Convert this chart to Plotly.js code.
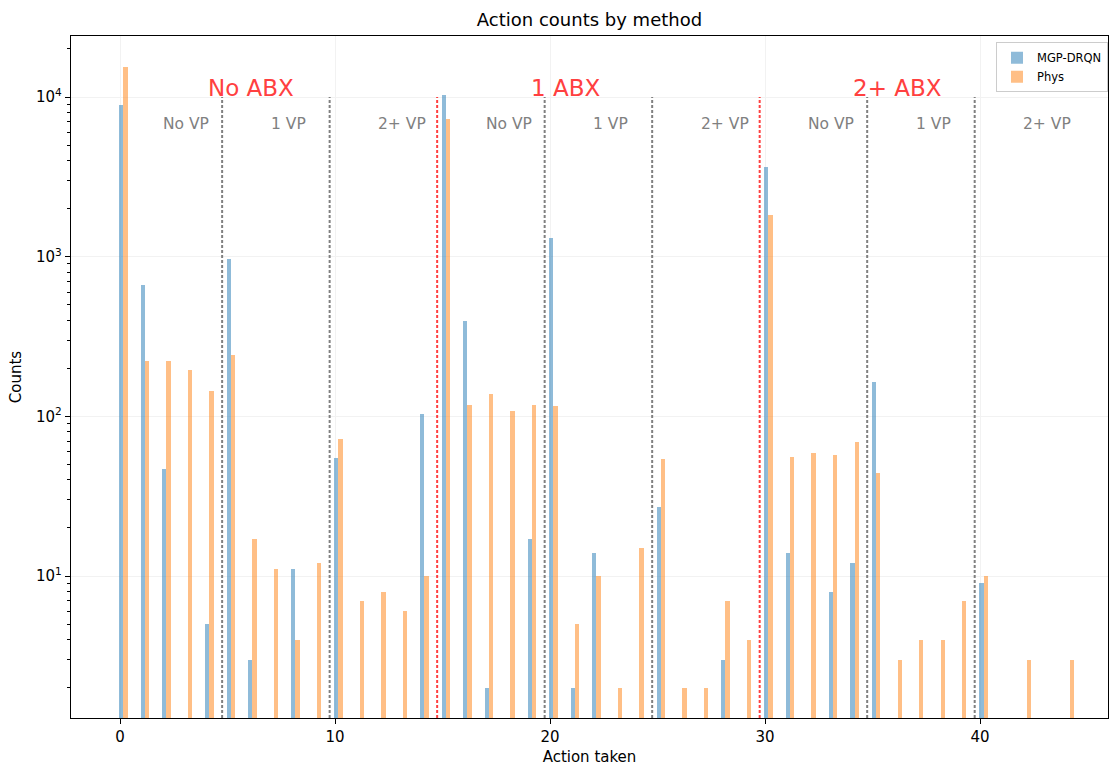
<!DOCTYPE html>
<html>
<head>
<meta charset="utf-8">
<script src="https://cdn.plot.ly/plotly-3.0.1.min.js"></script>
<style>html,body{margin:0;padding:0;background:#fff;}#chart{width:1110px;height:766px;}</style>
</head>
<body>
<div id="chart"></div>
<script>
// Action indices 0..44
const actions = [0,1,2,3,4,5,6,7,8,9,10,11,12,13,14,15,16,17,18,19,20,21,22,23,24,25,26,27,28,29,30,31,32,33,34,35,36,37,38,39,40,41,42,43,44];
// MGP-DRQN counts (null = no occurrences)
const mgpCounts = [8900,665,47,null,5,967,3,null,11,null,55,null,null,null,103,
                   10300,395,2,null,17,1310,2,14,null,null,27,null,null,3,null,
                   3650,14,null,8,12,164,null,null,null,null,9,null,null,null,null];
// Physician counts
const physCounts = [15400,222,222,195,144,242,17,11,4,12,72,7,8,6,10,
                    7280,118,138,108,117,116,5,10,2,15,54,2,2,7,4,
                    1820,56,59,57,69,44,3,4,4,7,10,null,3,null,3];
const seriesNames = ["MGP-DRQN","Phys"];
// Group boundaries
const vpBounds = [4.75,9.75,19.75,24.75,34.75,39.75];
const abxBounds = [14.75,29.75];
const abxLabels = ["No ABX","1 ABX","2+ ABX"];
const abxLabelX = [4,19,34];
const vpLabels = ["No VP","1 VP","2+ VP","No VP","1 VP","2+ VP","No VP","1 VP","2+ VP"];
const vpLabelX = [2,7,12,17,22,27,32,37,42];
const yTickVals = [10,100,1000,10000];
const yTickText = ["10<sup>1</sup>","10<sup>2</sup>","10<sup>3</sup>","10<sup>4</sup>"];
const yMinorVals = [2,3,4,5,6,7,8,9,20,30,40,50,60,70,80,90,200,300,400,500,600,700,800,900,
                    2000,3000,4000,5000,6000,7000,8000,9000,20000];

const FONT = "DejaVu Sans, Verdana, sans-serif";
const yLogRange = [0.111, 4.382];

const traces = [
  {type:'bar', x:actions, y:mgpCounts, name:seriesNames[0], offset:-0.04, width:0.2,
   marker:{color:'rgba(31,119,180,0.5)', line:{width:0}}},
  {type:'bar', x:actions, y:physCounts, name:seriesNames[1], offset:0.16, width:0.2,
   marker:{color:'rgba(255,127,14,0.5)', line:{width:0}}}
];

const shapes = [];
vpBounds.forEach(v => shapes.push({type:'line', xref:'x', yref:'y', x0:v, x1:v,
  y0:Math.pow(10,yLogRange[0]), y1:10000, line:{color:'#808080', width:2, dash:'3px,2px'}}));
abxBounds.forEach(v => shapes.push({type:'line', xref:'x', yref:'y', x0:v, x1:v,
  y0:Math.pow(10,yLogRange[0]), y1:10000, line:{color:'rgba(255,0,0,0.75)', width:2, dash:'3px,2px'}}));

const annotations = [];
abxLabels.forEach((t,i) => annotations.push({text:t, xref:'x', yref:'paper', x:abxLabelX[i], y:0.9106,
  xanchor:'left', yanchor:'bottom', yshift:-6, showarrow:false, font:{family:FONT, size:23, color:'#ff4040'}}));
vpLabels.forEach((t,i) => annotations.push({text:t, xref:'x', yref:'paper', x:vpLabelX[i], y:0.871,
  xanchor:'left', yanchor:'middle', xshift:-2, showarrow:false, font:{family:FONT, size:15.5, color:'#808080'}}));

const layout = {
  width:1110, height:766,
  margin:{l:71, r:2, t:36, b:48},
  paper_bgcolor:'#fff', plot_bgcolor:'#fff',
  font:{family:FONT, size:15, color:'#000'},
  title:{text:'Action counts by method', font:{family:FONT, size:18, color:'#000'},
         x:0.5, xref:'paper', y:1-20/766, yref:'container', yanchor:'middle'},
  barmode:'overlay',
  bargap:0,
  showlegend:true,
  legend:{x:1, y:0.991, xanchor:'right', yanchor:'top', bgcolor:'#fff',
          bordercolor:'#cccccc', borderwidth:1, font:{family:FONT, size:11.5, color:'#000'},
          tracegroupgap:0, itemwidth:30},
  xaxis:{range:[-2.279, 45.95], tickvals:[0,10,20,30,40], ticks:'outside', ticklen:5, tickwidth:1,
         tickcolor:'#000', showline:true, linecolor:'#000', linewidth:1.2, mirror:true,
         showgrid:true, gridcolor:'#f2f2f2', gridwidth:1, zeroline:false,
         tickfont:{family:FONT, size:15},
         title:{text:'Action taken', font:{family:FONT, size:15}, standoff:6}},
  yaxis:{type:'log', range:yLogRange, tickvals:yTickVals, ticktext:yTickText, ticks:'outside',
         ticklen:5, tickwidth:1, tickcolor:'#000', showline:true, linecolor:'#000', linewidth:1.2,
         mirror:true, showgrid:true, gridcolor:'#f2f2f2', gridwidth:1, zeroline:false,
         tickfont:{family:FONT, size:15},
         minor:{ticks:'outside', ticklen:3, tickcolor:'#000', tickwidth:1, showgrid:false,
                tickvals:yMinorVals},
         title:{text:'Counts', font:{family:FONT, size:15}, standoff:10}},
  shapes:shapes,
  annotations:annotations
};

Plotly.newPlot('chart', traces, layout, {staticPlot:true, displayModeBar:false});
</script>
</body>
</html>
